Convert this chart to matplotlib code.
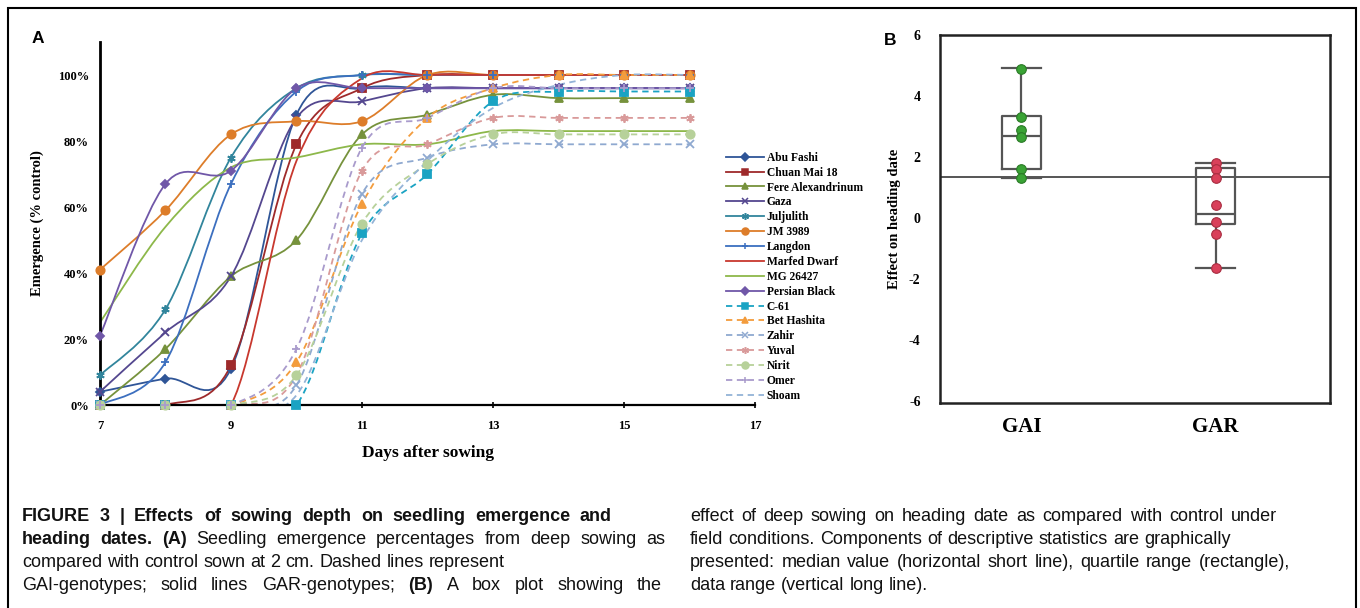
#!/usr/bin/env python3
"""Seedling emergence curves (A) and heading-date box plot (B) with caption."""
import matplotlib
matplotlib.use("Agg")
import matplotlib.pyplot as plt
import numpy as np
from matplotlib.lines import Line2D
from matplotlib.patches import PathPatch, Rectangle
from matplotlib.path import Path
from matplotlib.transforms import IdentityTransform

plt.rcParams["axes.unicode_minus"] = False

# ---- panel A data: emergence (% of control) per day after sowing ----
days = [7, 8, 9, 10, 11, 12, 13, 14, 15, 16]

abu_fashi = [4, 8, 11, 88, 96, 96, 96, 96, 96, 96]
chuan_mai_18 = [0, 0, 12, 79, 96, 100, 100, 100, 100, 100]
fere_alexandrinum = [0, 17, 39, 50, 82, 88, 94, 93, 93, 93]
gaza = [4, 22, 39, 87, 92, 96, 96, 96, 96, 96]
juljulith = [9, 29, 75, 96, 100, 100, 100, 100, 100, 100]
jm_3989 = [41, 59, 82, 86, 86, 100, 100, 100, 100, 100]
langdon = [0, 13, 67, 95, 100, 100, 100, 100, 100, 100]
marfed_dwarf = [0, 0, 0, 74, 99, 100, 100, 100, 100, 100]
mg_26427 = [25, 54, 72, 75, 79, 79, 83, 83, 83, 83]
persian_black = [21, 67, 71, 96, 96, 96, 96, 96, 96, 96]
c_61 = [0, 0, 0, 0, 52, 70, 92, 95, 95, 95]
bet_hashita = [0, 0, 0, 13, 61, 87, 96, 100, 100, 100]
zahir = [0, 0, 0, 6, 64, 75, 79, 79, 79, 79]
yuval = [0, 0, 0, 9, 71, 79, 87, 87, 87, 87]
nirit = [0, 0, 0, 9, 55, 73, 82, 82, 82, 82]
omer = [0, 0, 0, 17, 78, 87, 96, 96, 96, 96]
shoam = [0, 0, 0, 3, 50, 74, 90, 97, 100, 100]

# name, values, colour, marker, dashed
series = [
    ("Abu Fashi", abu_fashi, "#2f5597", "D", False),
    ("Chuan Mai 18", chuan_mai_18, "#9e2a2b", "s", False),
    ("Fere Alexandrinum", fere_alexandrinum, "#76923c", "^", False),
    ("Gaza", gaza, "#54478f", "x", False),
    ("Juljulith", juljulith, "#31859c", (6, 2, 0), False),
    ("JM 3989", jm_3989, "#dd7d2a", "o", False),
    ("Langdon", langdon, "#3c6fbf", "+", False),
    ("Marfed Dwarf", marfed_dwarf, "#c8382e", None, False),
    ("MG 26427", mg_26427, "#8db84a", None, False),
    ("Persian Black", persian_black, "#7057a8", "D", False),
    ("C-61", c_61, "#1aa3c3", "s", True),
    ("Bet Hashita", bet_hashita, "#f39c3d", "^", True),
    ("Zahir", zahir, "#8fa9d0", "x", True),
    ("Yuval", yuval, "#d99a9a", (6, 2, 0), True),
    ("Nirit", nirit, "#b7d19a", "o", True),
    ("Omer", omer, "#a99bcc", "+", True),
    ("Shoam", shoam, "#93b3d7", None, True),
]

# ---- panel B data: effect of deep sowing on heading date ----
groups = ["GAI", "GAR"]
gai_points = [4.9, 3.33, 2.9, 2.65, 1.62, 1.32]
gar_points = [1.82, 1.62, 1.33, 0.43, -0.11, -0.51, -1.62]
# box statistics as drawn: whislo, q1, med, q3, whishi
gai_stats = [1.32, 1.62, 2.68, 3.35, 4.93]
gar_stats = [-1.62, -0.2, 0.15, 1.65, 1.82]
control_line = 1.35

serif = ["Liberation Serif", "DejaVu Serif"]


def smooth_path(x, y):
    # Excel-style smoothed line: cubic Bezier segments through the points
    x = np.asarray(x, float)
    y = np.asarray(y, float)
    n = len(x)
    verts = [(x[0], y[0])]
    codes = [Path.MOVETO]
    for i in range(n - 1):
        a = i - 1 if i > 0 else i
        d = i + 2 if i + 2 < n else i + 1
        c1 = (x[i] + (x[i + 1] - x[a]) / 6, y[i] + (y[i + 1] - y[a]) / 6)
        c2 = (x[i + 1] - (x[d] - x[i]) / 6, y[i + 1] - (y[d] - y[i]) / 6)
        verts += [c1, c2, (x[i + 1], y[i + 1])]
        codes += [Path.CURVE4] * 3
    return Path(verts, codes)


W, H = 1360, 608
fig = plt.figure(figsize=(W / 100, H / 100), dpi=100)


def px_axes(left, top, right, bottom):
    return fig.add_axes([left / W, 1 - bottom / H, (right - left) / W, (bottom - top) / H])


# ---------------- panel A ----------------
ax = px_axes(100, 42, 755, 405)
dash = (0, (3.5, 2.5))
handles = []
for name, vals, color, marker, dashed in series:
    ls = dash if dashed else "-"
    patch = PathPatch(smooth_path(days, vals), fill=False, edgecolor=color,
                      lw=1.3, linestyle=ls, zorder=2)
    ax.add_patch(patch)
    if marker is not None:
        ms = 4 if marker == "D" else 6
        ax.plot(days, vals, ls="none", marker=marker, color=color, ms=ms,
                mew=1.3, zorder=3, clip_on=False)
    handles.append(Line2D([], [], color=color, lw=1.3, linestyle=ls,
                          marker=marker, ms=4 if marker == "D" else 5, mew=1.1, label=name))

ax.set_xlim(7, 17)
ax.set_ylim(0, 110)
ax.set_xticks([7, 9, 11, 13, 15, 17])
ax.set_yticks([0, 20, 40, 60, 80, 100])
ax.set_yticklabels([f"{v}%" for v in [0, 20, 40, 60, 80, 100]])
for s in ["top", "right"]:
    ax.spines[s].set_visible(False)
ax.spines["left"].set_linewidth(2.0)
ax.spines["bottom"].set_linewidth(1.6)
ax.tick_params(axis="x", direction="inout", length=5, width=1.2, pad=8)
ax.tick_params(axis="y", length=0, pad=8)
for lab in ax.get_xticklabels() + ax.get_yticklabels():
    lab.set_family(serif)
    lab.set_fontweight("bold")
    lab.set_fontsize(9)
ax.set_xlabel("Days after sowing", family=serif, fontweight="bold", fontsize=12.5, labelpad=10)
ax.set_ylabel("Emergence (% control)", family=serif, fontweight="bold", fontsize=10.5, labelpad=10)

fig.legend(handles=handles, loc="upper left", bbox_to_anchor=(720 / W, 1 - 146 / H),
           frameon=False, prop={"family": serif, "weight": "bold", "size": 8.3},
           labelspacing=0.25, handlelength=3.3, handletextpad=0.25, borderpad=0)

# ---------------- panel B ----------------
bx = px_axes(940, 35, 1330, 403)
stats = []
for g, st in zip(groups, [gai_stats, gar_stats]):
    stats.append(dict(label=g, whislo=st[0], q1=st[1], med=st[2], q3=st[3], whishi=st[4], fliers=[]))
gray = dict(color="#555555", lw=1.6)
bx.bxp(stats, positions=[1, 2], widths=0.2, capwidths=0.2, showfliers=False,
       boxprops=gray, whiskerprops=gray, capprops=gray, medianprops=gray)
bx.axhline(control_line, color="#555555", lw=1.4, zorder=1)
bx.scatter([1] * len(gai_points), gai_points, s=48, color="#3aa335", edgecolor="#2a7a26",
           lw=0.8, zorder=4)
bx.scatter([2] * len(gar_points), gar_points, s=48, color="#d9405a", edgecolor="#a82c40",
           lw=0.8, zorder=4)
bx.set_xlim(0.58, 2.59)
bx.set_ylim(-6.05, 5.95)
bx.set_yticks([-6, -4, -2, 0, 2, 4, 6])
for s in bx.spines.values():
    s.set_linewidth(1.8)
    s.set_color("#222222")
bx.tick_params(axis="both", length=0)
bx.tick_params(axis="y", pad=14)
bx.tick_params(axis="x", pad=10)
for lab in bx.get_yticklabels():
    lab.set_family(serif)
    lab.set_fontweight("bold")
    lab.set_fontsize(10)
for lab in bx.get_xticklabels():
    lab.set_family(serif)
    lab.set_fontweight("bold")
    lab.set_fontsize(15)
bx.set_ylabel("Effect on heading date", family=serif, fontweight="bold", fontsize=10.5, labelpad=6)

# panel letters and outer frame
fig.text(32 / W, 1 - 43 / H, "A", fontsize=12.5, fontweight="bold", family="Liberation Sans")
fig.text(884 / W, 1 - 45 / H, "B", fontsize=12.5, fontweight="bold", family="Liberation Sans")
fig.add_artist(Rectangle((8 / W, -0.05), (1356 - 8) / W, 1.05 - 8 / H, transform=fig.transFigure,
                         fill=False, edgecolor="black", lw=1.5))

# ---------------- caption ----------------
renderer = fig.canvas.get_renderer()
cap_size = 13


def cap_text(x, baseline, txt, bold):
    return fig.text(x, H - baseline, txt, transform=IdentityTransform(), fontsize=cap_size,
                    family=["Liberation Sans", "DejaVu Sans"], fontweight="bold" if bold else "normal",
                    va="baseline", color="#111111")


probe = cap_text(0, -100, "a a", False)
probe2 = cap_text(0, -100, "aa", False)
space_w = probe.get_window_extent(renderer).width - probe2.get_window_extent(renderer).width
probe.remove()
probe2.remove()


def draw_line(x0, baseline, runs, right=None):
    # split runs into words; spread them to the right edge when justified
    words = [(w, bold) for txt, bold in runs for w in txt.split()]
    texts = [cap_text(x0, baseline, w, b) for w, b in words]
    widths = [t.get_window_extent(renderer).width for t in texts]
    gap = space_w
    if right is not None:
        gap = max(space_w, (right - x0 - sum(widths)) / (len(words) - 1))
    x = x0
    for t, w in zip(texts, widths):
        t.set_x(x)
        x += w + gap


left_lines = [
    ([("FIGURE 3 | Effects of sowing depth on seedling emergence and", True)], 612),
    ([("heading dates. (A)", True), (" Seedling emergence percentages from deep sowing as", False)], 665),
    ([("compared with control sown at 2 cm. Dashed lines represent", False)], None),
    ([("GAI-genotypes; solid lines GAR-genotypes; ", False), ("(B)", True),
      (" A box plot showing the", False)], 662),
]
right_lines = [
    ([("effect of deep sowing on heading date as compared with control under", False)], 1277),
    ([("field conditions. Components of descriptive statistics are graphically", False)], 1231),
    ([("presented: median value (horizontal short line), quartile range (rectangle),", False)], 1290),
    ([("data range (vertical long line).", False)], None),
]
for i, (runs, right) in enumerate(left_lines):
    draw_line(22, 521 + 23 * i, runs, right)
for i, (runs, right) in enumerate(right_lines):
    draw_line(690, 521 + 23 * i, runs, right)

fig.savefig("out.png", dpi=100)
plt.close(fig)
